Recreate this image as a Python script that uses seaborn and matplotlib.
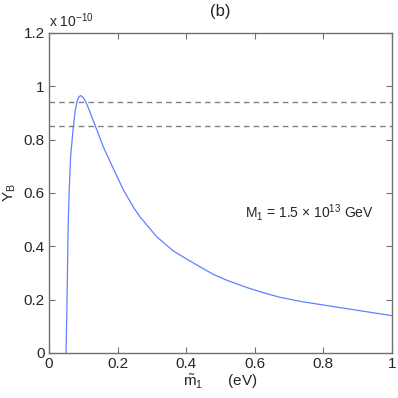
import seaborn as sns
import pandas as pd
import matplotlib.pyplot as plt
from matplotlib.ticker import FuncFormatter

# curve (units of 1e-10)
m1 = [0.0496, 0.052, 0.053, 0.056, 0.059, 0.063, 0.065, 0.070, 0.076, 0.082,
      0.088, 0.093, 0.100, 0.108, 0.115, 0.134, 0.158, 0.187, 0.217, 0.248,
      0.265, 0.314, 0.362, 0.411, 0.45, 0.479, 0.52, 0.576, 0.62, 0.673,
      0.74, 0.8, 0.9, 1.0]
yb = [0.0, 0.15, 0.236, 0.486, 0.611, 0.736, 0.765, 0.836, 0.905, 0.945,
      0.962, 0.965, 0.958, 0.94, 0.918, 0.855, 0.774, 0.693, 0.611, 0.543,
      0.511, 0.436, 0.383, 0.345, 0.316, 0.295, 0.272, 0.246, 0.228, 0.209,
      0.192, 0.18, 0.16, 0.14]
bounds = [0.94, 0.85]
xticks = [0, 0.2, 0.4, 0.6, 0.8, 1]
yticks = [0, 0.2, 0.4, 0.6, 0.8, 1, 1.2]

sns.set_style('ticks')
plt.rcParams['font.family'] = ['Liberation Sans', 'DejaVu Sans']
plt.rcParams['mathtext.fontset'] = 'custom'
plt.rcParams['mathtext.rm'] = 'Liberation Sans'
plt.rcParams['mathtext.it'] = 'Liberation Sans'

df = pd.DataFrame({'m1': m1, 'YB': yb})

fig = plt.figure(figsize=(3.98, 3.98), dpi=100)
ax = fig.add_axes([49 / 398, 45 / 398, 343 / 398, 320 / 398])

sns.lineplot(data=df, x='m1', y='YB', ax=ax, color='#6080ff', linewidth=0.9)
for b in bounds:
    ax.axhline(b, color='#808080', linestyle=(0, (4, 3)), linewidth=1.0)

ax.set_xlim(0, 1)
ax.set_ylim(0, 1.2)
ax.set_xticks(xticks)
ax.set_yticks(yticks)
fmt = FuncFormatter(lambda v, p: ('%g' % v))
ax.xaxis.set_major_formatter(fmt)
ax.yaxis.set_major_formatter(fmt)
ax.tick_params(direction='in', top=True, right=True, length=4, width=0.8,
               color='#707070', labelsize=11, pad=3)
for s in ax.spines.values():
    s.set_color('#707070')
    s.set_linewidth(1.0)

ax.set_xlabel(r'$\tilde{\rm m}_1$      (eV)', fontsize=11, labelpad=1)
ax.set_ylabel(r'Y$_{\rm B}$', fontsize=11, labelpad=4)
ax.set_title('(b)', fontsize=12, pad=12)
ax.text(0.0, 1.01, r'x 10$^{-10}$', transform=ax.transAxes, fontsize=10,
        ha='left', va='bottom')
ax.text(0.57, 0.525, r'M$_1$ = 1.5 $\times$ 10$^{13}$ GeV', fontsize=10,
        ha='left', va='center')

fig.savefig('out.png', dpi=100)
